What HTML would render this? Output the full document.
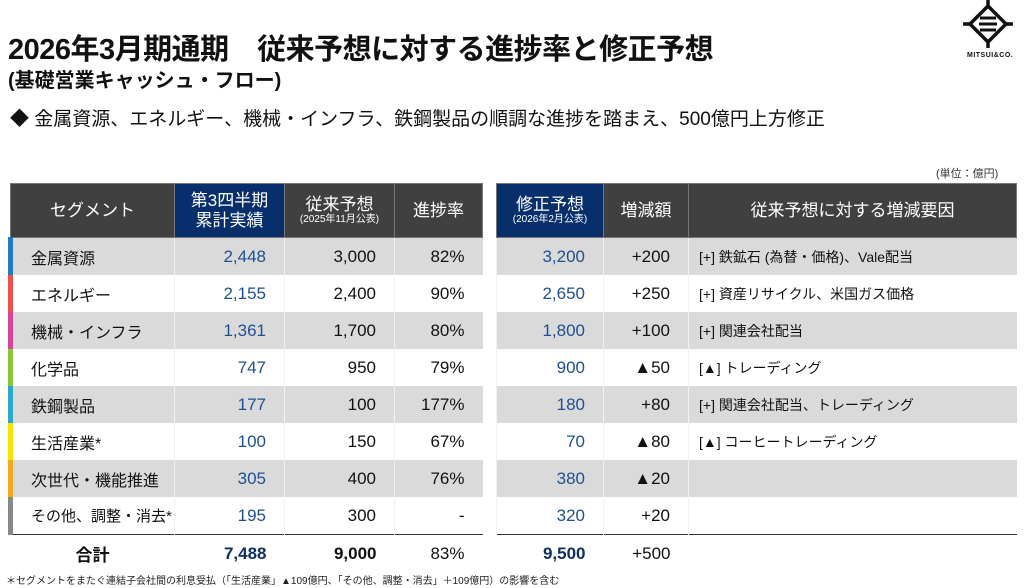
<!DOCTYPE html><html><head><meta charset="utf-8"><style>
body{margin:0;width:1024px;height:588px;background:#fff;position:relative;overflow:hidden;font-family:"Liberation Sans","Noto Sans CJK JP",sans-serif;color:#111}
.a{position:absolute}
table{position:absolute;border-collapse:collapse;table-layout:fixed}
td{padding:0;height:37px;font-size:16px;border-left:1px solid #f2f2f2}
th{background:#404040;color:#fff;font-weight:normal;font-size:17px;height:51px;border:1px solid #777;line-height:1.12}
th.b{background:#062f6b}
th small{font-size:10px;display:block}
tr.g td{background:#dadada}
.n{color:#1d4f91;text-align:right;padding-right:18px;font-size:17px}
.k{text-align:right;padding-right:18px;font-size:17px}
.bar{border-left:5px solid}
</style></head><body>
<div class="a" style="left:8px;top:26px;font-size:29px;font-weight:bold;letter-spacing:-0.5px">2026年3月期通期　従来予想に対する進捗率と修正予想</div>
<div class="a" style="left:8px;top:64px;font-size:20px;font-weight:bold">(基礎営業キャッシュ・フロー)</div>
<div class="a" style="left:10px;top:104px;font-size:19px">◆ 金属資源、エネルギー、機械・インフラ、鉄鋼製品の順調な進捗を踏まえ、500億円上方修正</div>
<div class="a" style="left:936px;top:165px;font-size:11px;color:#333">(単位：億円)</div>
<svg class="a" style="left:963px;top:0px" width="50" height="48" viewBox="0 0 50 48"><g stroke="#111" stroke-width="3.5" fill="none"><path d="M25 6L43 24L25 42L7 24Z"/><path d="M25 0v8M25 40v8M0 24h9M41 24h9"/></g><g stroke="#111" stroke-width="3"><path d="M17 18h16M16 24h18M17 30h16"/></g></svg>
<div class="a" style="left:967px;top:52px;font-size:7px;font-weight:bold;letter-spacing:0.5px">MITSUI&amp;CO.</div>
<table style="left:8px;top:183px;width:472px">
<colgroup><col style="width:164px"><col style="width:110px"><col style="width:110px"><col style="width:88px"></colgroup>
<tr><th>セグメント</th><th class="b">第3四半期<br>累計実績</th><th>従来予想<small>(2025年11月公表)</small></th><th>進捗率</th></tr>
<tr class="g"><td class="bar" style="border-color:#1f7bc2;padding-left:18px">金属資源</td><td class="n">2,448</td><td class="k">3,000</td><td class="k">82%</td></tr>
<tr><td class="bar" style="border-color:#e8524a;padding-left:18px">エネルギー</td><td class="n">2,155</td><td class="k">2,400</td><td class="k">90%</td></tr>
<tr class="g"><td class="bar" style="border-color:#d6459b;padding-left:18px">機械・インフラ</td><td class="n">1,361</td><td class="k">1,700</td><td class="k">80%</td></tr>
<tr><td class="bar" style="border-color:#8cc63f;padding-left:18px">化学品</td><td class="n">747</td><td class="k">950</td><td class="k">79%</td></tr>
<tr class="g"><td class="bar" style="border-color:#29a9d0;padding-left:18px">鉄鋼製品</td><td class="n">177</td><td class="k">100</td><td class="k">177%</td></tr>
<tr><td class="bar" style="border-color:#f5e400;padding-left:18px">生活産業*</td><td class="n">100</td><td class="k">150</td><td class="k">67%</td></tr>
<tr class="g"><td class="bar" style="border-color:#f5a623;padding-left:18px">次世代・機能推進</td><td class="n">305</td><td class="k">400</td><td class="k">76%</td></tr>
<tr style="border-bottom:1.5px solid #333"><td class="bar" style="border-color:#888;padding-left:18px;font-size:15px">その他、調整・消去*</td><td class="n">195</td><td class="k">300</td><td class="k">-</td></tr>
<tr><td style="text-align:center;font-weight:bold;font-size:17px;border:none">合計</td><td class="n" style="font-weight:bold;color:#0d2f66;border:none">7,488</td><td class="k" style="font-weight:bold;border:none">9,000</td><td class="k" style="border:none">83%</td></tr>
</table>
<table style="left:496px;top:183px;width:520px">
<colgroup><col style="width:107px"><col style="width:85px"><col style="width:328px"></colgroup>
<tr><th class="b">修正予想<small>(2026年2月公表)</small></th><th>増減額</th><th>従来予想に対する増減要因</th></tr>
<tr class="g"><td class="n">3,200</td><td class="k">+200</td><td style="padding-left:10px;font-size:14px">[+] 鉄鉱石 (為替・価格)、Vale配当</td></tr>
<tr><td class="n">2,650</td><td class="k">+250</td><td style="padding-left:10px;font-size:14px">[+] 資産リサイクル、米国ガス価格</td></tr>
<tr class="g"><td class="n">1,800</td><td class="k">+100</td><td style="padding-left:10px;font-size:14px">[+] 関連会社配当</td></tr>
<tr><td class="n">900</td><td class="k">▲50</td><td style="padding-left:10px;font-size:14px">[▲] トレーディング</td></tr>
<tr class="g"><td class="n">180</td><td class="k">+80</td><td style="padding-left:10px;font-size:14px">[+] 関連会社配当、トレーディング</td></tr>
<tr><td class="n">70</td><td class="k">▲80</td><td style="padding-left:10px;font-size:14px">[▲] コーヒートレーディング</td></tr>
<tr class="g"><td class="n">380</td><td class="k">▲20</td><td></td></tr>
<tr style="border-bottom:1.5px solid #333"><td class="n">320</td><td class="k">+20</td><td></td></tr>
<tr><td class="n" style="font-weight:bold;color:#0d2f66;border:none">9,500</td><td class="k" style="border:none">+500</td><td style="border:none"></td></tr>
</table>
<div class="a" style="left:6px;top:572px;font-size:10px;color:#222">＊セグメントをまたぐ連結子会社間の利息受払（「生活産業」▲109億円、「その他、調整・消去」＋109億円）の影響を含む</div>
</body></html>
